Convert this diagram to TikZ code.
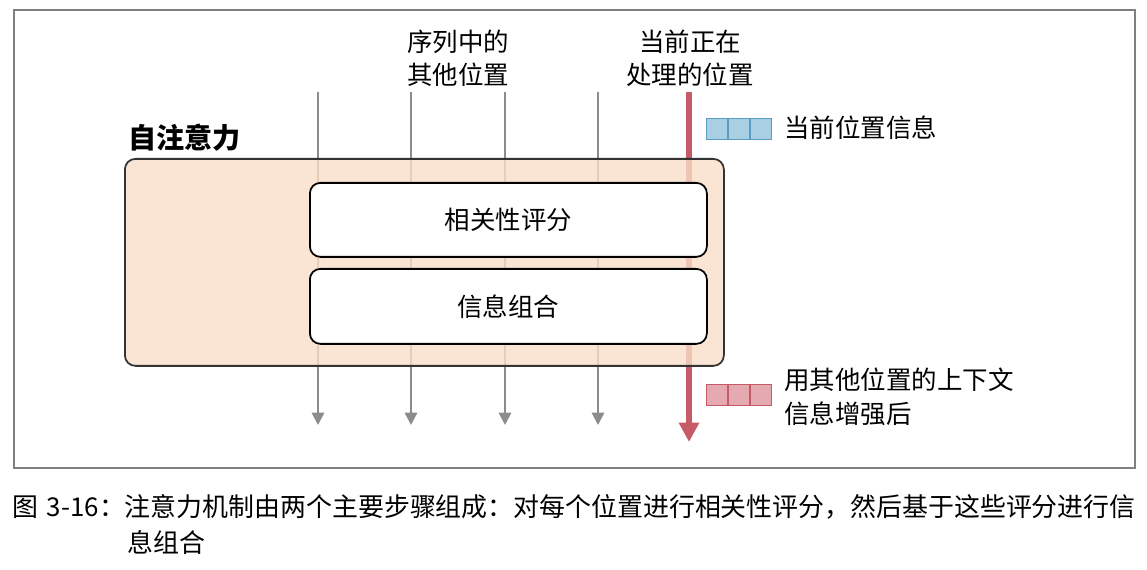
\documentclass[tikz,border=0pt]{standalone}
\usepackage{fontspec}
\setmainfont{Noto Sans CJK SC}
\usetikzlibrary{arrows.meta}
\definecolor{peach}{HTML}{F9DFC9}
\definecolor{redl}{HTML}{C65B68}
\definecolor{bluef}{HTML}{A9CFE3}
\definecolor{blueb}{HTML}{5A9CC4}
\definecolor{redf}{HTML}{E5A9B1}
\begin{document}
\begin{tikzpicture}[x=0.02cm,y=-0.02cm,
 garr/.style={draw=gray!90,line width=1.3pt,-{Triangle[length=7pt,width=7pt]}},
 box/.style={draw=black,line width=1pt,rounded corners=6pt,fill=white},
 lab/.style={font=\fontsize{14.5}{19}\selectfont,align=center},
 sq/.style={line width=1pt,minimum size=0.42cm,inner sep=0pt}]
\useasboundingbox (0,0) rectangle (1147,570);
\draw[gray,line width=0.8pt] (14,10) rectangle (1135,468);
\foreach \n/\x in {a/318,b/411,c/505,d/598}{
 \coordinate (\n1) at (\x,92); \coordinate (\n2) at (\x,425);
 \draw[garr] (\n1) -- (\n2);}
\coordinate (r1) at (689,92); \coordinate (r2) at (689,442);
\draw[draw=redl,line width=3pt,-{Triangle[length=11pt,width=11pt]}] (r1) -- (r2);
\node[draw=black!80,line width=1pt,rounded corners=6pt,fill=peach,fill opacity=0.8,minimum width=599*0.02cm,minimum height=207*0.02cm,anchor=north west] (sa) at (124,158) {};
\node[box,minimum width=397*0.02cm,minimum height=74*0.02cm,anchor=north west,lab] (rel) at (309,182) {相关性评分};
\node[box,minimum width=397*0.02cm,minimum height=75*0.02cm,anchor=north west,lab] (com) at (309,268) {信息组合};
\node[font=\fontsize{16}{18}\selectfont\bfseries,anchor=west] (t) at (122,138) {自注意力};
\node[lab] (l1) at (458,58) {序列中的\\其他位置};
\node[lab] (l2) at (690,58) {当前正在\\处理的位置};
\foreach \i in {0,1,2}{
 \node[sq,draw=blueb,fill=bluef] (b\i) at (717+\i*22,129) {};
 \node[sq,draw=redl,fill=redf] (q\i) at (717+\i*22,395) {};}
\node[lab,anchor=west] (bt) at (778,128) {当前位置信息};
\node[lab,anchor=west,align=left] (qt) at (778,397) {用其他位置的上下文\\信息增强后};
\node[font=\fontsize{14.75}{20.5}\selectfont,anchor=north west,align=left,text width=1140*0.02cm,inner sep=0pt] (cap) at (12,494) {图 3-16：注意力机制由两个主要步骤组成：对每个位置进行相关性评分，然后基于这些评分进行信\\\hspace*{4.45em}息组合};
\end{tikzpicture}
\end{document}
